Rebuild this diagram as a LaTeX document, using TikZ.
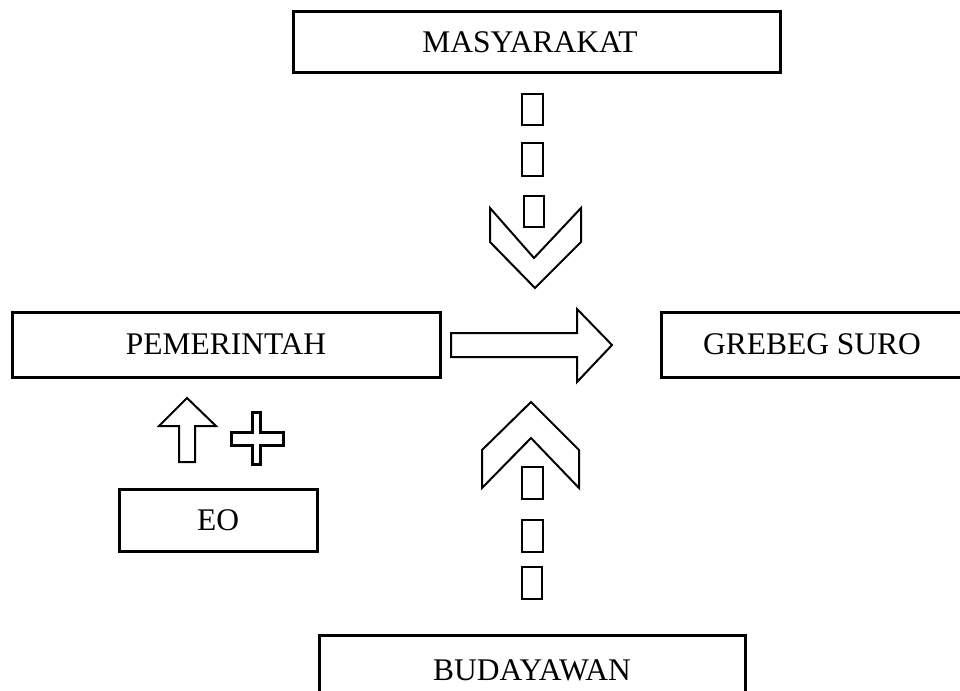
\documentclass[tikz,border=0pt]{standalone}
\usepackage{fontspec}
\setmainfont{Liberation Serif}
\begin{document}
\begin{tikzpicture}[x=1pt,y=-1pt,
  lbl/.style={font=\fontsize{31.5}{35}\selectfont},
  box/.style={draw=black,line width=3pt,inner sep=0pt,lbl},
  shp/.style={draw=black,line width=2pt,line join=miter,fill=white},
  tofu/.style={draw=black,line width=2pt}]
\useasboundingbox (0,0) rectangle (960,690);
\clip (0,0) rectangle (960,690);
% boxes
\node[box,minimum width=487pt,minimum height=61pt] (mas) at (536.5,42.5) {};
\node[lbl] (masT) at (530,42.5) {MASYARAKAT};
\node[box,minimum width=428pt,minimum height=65pt] (pem) at (226,344.5) {PEMERINTAH};
\node[box,minimum width=302pt,minimum height=65pt] (gre) at (812,344.5) {GREBEG SURO};
\node[box,minimum width=198pt,minimum height=62pt] (eo) at (218,520) {EO};
\node[box,minimum width=426pt,minimum height=70pt] (bud) at (532,670) {BUDAYAWAN};
% top small rectangles
\draw[tofu] (522,94) rectangle (543,125);
\draw[tofu] (522,143) rectangle (543,176);
\draw[tofu] (524,196) rectangle (544,227);
% down chevron
\draw[shp,fill=none] (490,208) -- (490,242) -- (535,288) -- (581,242) -- (581,208) -- (534,258) -- cycle;
% up chevron
\draw[shp,fill=none] (482,488) -- (482,450) -- (531,402) -- (579,450) -- (579,488) -- (531,438) -- cycle;
% bottom small rectangles
\draw[tofu] (522,467) rectangle (543,499);
\draw[tofu] (522,520) rectangle (543,552);
\draw[tofu] (522,567) rectangle (542,599);
% right arrow
\draw[shp] (451,333) -- (577,333) -- (577,309) -- (612,345) -- (577,382) -- (577,357) -- (451,357) -- cycle;
% up arrow
\draw[shp] (179,462) -- (179,426) -- (159,426) -- (187,398) -- (216,426) -- (195,426) -- (195,462) -- cycle;
% plus
\draw[draw=black,line width=3pt,line join=miter] (252,412) -- (260,412) -- (260,432) -- (283,432) -- (283,445) -- (260,445) -- (260,464) -- (252,464) -- (252,445) -- (231,445) -- (231,432) -- (252,432) -- cycle;
\end{tikzpicture}
\end{document}
